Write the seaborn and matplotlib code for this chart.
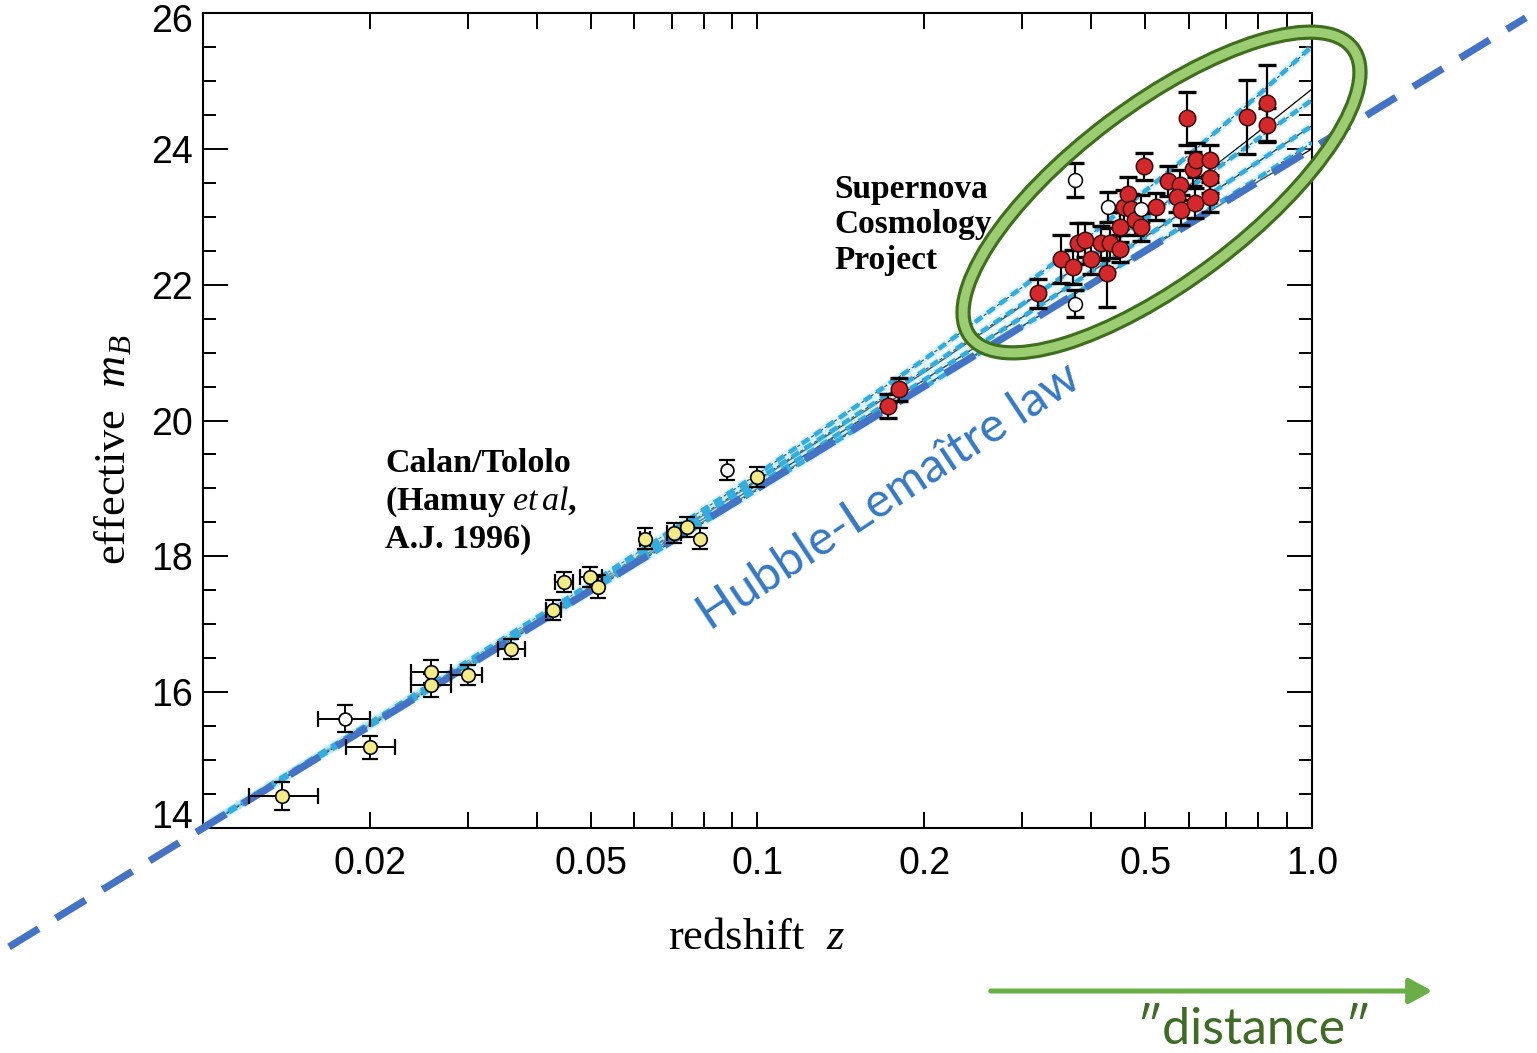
import numpy as np
import pandas as pd
import matplotlib
matplotlib.use("Agg")
import matplotlib.pyplot as plt
import matplotlib.transforms as mtransforms
from matplotlib.patches import Ellipse, FancyArrowPatch
import seaborn as sns

# ---------------- data ----------------
# Calan/Tololo supernovae (low redshift)
ct_z = [0.0139, 0.0180, 0.0200, 0.0258, 0.0258, 0.0301, 0.0360, 0.0428, 0.0448,
        0.0499, 0.0516, 0.0627, 0.0706, 0.0746, 0.0789, 0.0881, 0.1000]
ct_m = [14.47, 15.61, 15.19, 16.30, 16.10, 16.25, 16.64, 17.21, 17.62,
        17.70, 17.55, 18.26, 18.34, 18.43, 18.26, 19.27, 19.17]
ct_err = [0.20, 0.20, 0.17, 0.17, 0.17, 0.15, 0.15, 0.15, 0.15,
          0.15, 0.17, 0.15, 0.15, 0.15, 0.15, 0.15, 0.15]
ct_zlo = [0.0121, 0.0161, 0.0181, 0.0237, 0.0237, 0.0280, 0.0341, 0.0415, 0.0432,
          0.0479, 0.0516, 0.0613, 0.0686, 0.0746, 0.0789, 0.0881, 0.1000]
ct_zhi = [0.0161, 0.0200, 0.0222, 0.0280, 0.0280, 0.0318, 0.0381, 0.0442, 0.0465,
          0.0524, 0.0516, 0.0641, 0.0727, 0.0746, 0.0789, 0.0881, 0.1000]
ct_open = [False, True, False, False, False, False, False, False, False,
           False, False, False, False, False, False, True, False]

# Supernova Cosmology Project (high redshift)
scp_z = [0.172, 0.180, 0.320, 0.353, 0.371, 0.373, 0.373, 0.378, 0.389, 0.400,
         0.417, 0.426, 0.432, 0.450, 0.450, 0.459, 0.466, 0.471, 0.479, 0.492,
         0.428, 0.492, 0.497, 0.524, 0.550, 0.577, 0.570, 0.581, 0.594, 0.610,
         0.618, 0.615, 0.654, 0.654, 0.654, 0.762, 0.828, 0.828]
scp_m = [20.21, 20.46, 21.87, 22.38, 22.26, 23.54, 21.72, 22.61, 22.66, 22.38,
         22.61, 22.17, 22.61, 22.53, 22.85, 23.15, 23.34, 23.12, 22.95, 22.85,
         23.15, 23.12, 23.74, 23.15, 23.52, 23.47, 23.29, 23.10, 24.45, 23.71,
         23.84, 23.20, 23.84, 23.57, 23.29, 24.47, 24.67, 24.35]
scp_err = [0.18, 0.17, 0.22, 0.35, 0.25, 0.25, 0.20, 0.30, 0.25, 0.22,
           0.25, 0.50, 0.22, 0.20, 0.22, 0.25, 0.25, 0.22, 0.22, 0.20,
           0.22, 0.20, 0.20, 0.20, 0.22, 0.22, 0.22, 0.22, 0.39, 0.25,
           0.25, 0.22, 0.22, 0.22, 0.22, 0.54, 0.56, 0.25]
scp_open = [False, False, False, False, False, True, True, False, False, False,
            False, False, False, False, False, False, False, False, False, False,
            True, True, False, False, False, False, False, False, False, False,
            False, False, False, False, False, False, False, False]

# model magnitude-redshift curves
model_z = [0.01, 0.02, 0.05, 0.1, 0.2, 0.3, 0.4, 0.5, 0.6, 0.7, 0.8, 1.0]
solid_models = {
    "(0,0)": [14.01, 15.53, 17.55, 19.11, 20.71, 21.69, 22.41, 22.98, 23.46, 23.88, 24.25, 24.88],
    "(1,0)": [14.01, 15.52, 17.52, 19.05, 20.60, 21.52, 22.19, 22.70, 23.13, 23.49, 23.81, 24.34],
    "(2,0)": [14.00, 15.51, 17.50, 19.00, 20.51, 21.39, 22.01, 22.50, 22.89, 23.23, 23.52, 24.00],
}
flat_models = {
    "(0,1)": [14.02, 15.55, 17.60, 19.21, 20.90, 21.96, 22.74, 23.38, 23.91, 24.38, 24.79, 25.51],
    "(0.5,0.5)": [14.01, 15.53, 17.56, 19.13, 20.74, 21.71, 22.41, 22.97, 23.42, 23.81, 24.15, 24.72],
    "(1,0)": [14.01, 15.52, 17.52, 19.05, 20.60, 21.52, 22.19, 22.70, 23.13, 23.49, 23.81, 24.34],
    "(1.5,-0.5)": [14.00, 15.50, 17.48, 18.98, 20.49, 21.38, 22.01, 22.51, 22.92, 23.27, 23.57, 24.09],
}

# straight Hubble-Lemaitre relation, drawn past the frame
hubble_z = [0.00447, 2.43]
hubble_m = [12.25, 25.93]

x_major = [0.02, 0.05, 0.1, 0.2, 0.5, 1.0]
x_major_labels = ["0.02", "0.05", "0.1", "0.2", "0.5", "1.0"]
x_minor = [0.03, 0.04, 0.06, 0.07, 0.08, 0.09, 0.3, 0.4, 0.6, 0.7, 0.8, 0.9]
y_major = [14, 16, 18, 20, 22, 24, 26]

# ---------------- style ----------------
sns.set_theme(style="ticks")
plt.rcParams.update({
    "font.family": ["Liberation Sans", "DejaVu Sans"],
    "mathtext.fontset": "custom",
    "mathtext.rm": "Liberation Serif",
    "mathtext.it": "Liberation Serif:italic",
    "mathtext.bf": "Liberation Serif:bold",
    "mathtext.bfit": "Liberation Serif:italic:bold",
    "axes.linewidth": 1.5,
    "text.color": "black",
    "axes.labelcolor": "black",
    "xtick.color": "black",
    "ytick.color": "black",
    "axes.edgecolor": "black",
})

W, H = 1537, 1053
fig = plt.figure(figsize=(W / 100, H / 100), dpi=100)
fig.patch.set_facecolor("white")
ax = fig.add_axes([203 / W, 1 - 828 / H, (1312 - 203) / W, (828 - 13) / H])
ax.set_facecolor("white")
ax.set_xscale("log")

# model curves
for name, vals in solid_models.items():
    sns.lineplot(x=model_z, y=vals, ax=ax, color="black", lw=0.9, zorder=2)
for name, vals in flat_models.items():
    sns.lineplot(x=model_z, y=vals, ax=ax, color="black", lw=0.8,
                 linestyle=(0, (3, 2)), zorder=2)
    sns.lineplot(x=model_z, y=vals, ax=ax, color="#9be0f5", lw=5.5,
                 alpha=0.35, zorder=2)
    sns.lineplot(x=model_z, y=vals, ax=ax, color="#33ace0", lw=3.3,
                 linestyle=(0, (1.9, 1.4)), zorder=3)

# Hubble-Lemaitre line
sns.lineplot(x=hubble_z, y=hubble_m, ax=ax, color="#4472c4", lw=5.2,
             linestyle=(0, (4.8, 2.8)), clip_on=False, zorder=4)

# error bars
err_kw = dict(fmt="none", ecolor="black", elinewidth=1.4, capsize=5.5, capthick=1.6, zorder=5)
ax.errorbar(ct_z, ct_m, yerr=ct_err, **err_kw)
ct_zc = np.array(ct_z)
has_x = np.array(ct_zhi) > np.array(ct_zlo)
ax.errorbar(ct_zc[has_x], np.array(ct_m)[has_x],
            xerr=[ct_zc[has_x] - np.array(ct_zlo)[has_x], np.array(ct_zhi)[has_x] - ct_zc[has_x]],
            **err_kw)
ax.errorbar(scp_z, scp_m, yerr=scp_err, fmt="none", ecolor="black", elinewidth=1.6,
            capsize=6.5, capthick=2.4, zorder=5)

# points
ct = pd.DataFrame({"z": ct_z, "m": ct_m, "open": ct_open})
scp = pd.DataFrame({"z": scp_z, "m": scp_m, "open": scp_open})
sns.scatterplot(data=ct[~ct["open"]], x="z", y="m", ax=ax, color="#f3ec86",
                edgecolor="black", linewidth=1.2, s=95, zorder=6)
sns.scatterplot(data=ct[ct["open"]], x="z", y="m", ax=ax, color="white",
                edgecolor="black", linewidth=1.2, s=85, zorder=6)
sns.scatterplot(data=scp[~scp["open"]], x="z", y="m", ax=ax, color="#d3282c",
                edgecolor="#3a0a0a", linewidth=1.1, s=140, zorder=6)
sns.scatterplot(data=scp[scp["open"]], x="z", y="m", ax=ax, color="white",
                edgecolor="black", linewidth=1.1, s=100, zorder=6)

# axes
ax.set_xlim(0.01, 1.0)
ax.set_ylim(14, 26)
ax.set_xticks(x_major)
ax.set_xticklabels(x_major_labels)
ax.set_xticks(x_minor, minor=True)
ax.set_xticklabels([], minor=True)
ax.set_yticks(y_major)
ax.set_yticklabels([str(v) for v in y_major])
ax.set_yticks(np.arange(14, 26.01, 0.5), minor=True)
ax.tick_params(axis="both", which="both", direction="in", top=True, right=True,
               colors="black", width=1.4)
ax.tick_params(axis="x", which="both", length=11.5, labelsize=27, pad=13)
ax.tick_params(axis="y", which="major", length=18, labelsize=27, pad=7)
ax.tick_params(axis="y", which="minor", length=9.5)
for sp in ax.spines.values():
    sp.set_visible(True)
    sp.set_color("black")
    sp.set_linewidth(1.5)

ax.set_xlabel(r"redshift  $z$", family="Liberation Serif", fontsize=32)
ax.xaxis.label.set_va("center")
ax.xaxis.set_label_coords((756 - 203) / (1312 - 203), -(938 - 828) / (828 - 13))
ax.set_ylabel(r"effective  $m_B$", family="Liberation Serif", fontsize=32)
ax.yaxis.label.set_va("center")
ax.yaxis.set_label_coords(-(203 - 113) / (1312 - 203), (828 - 450) / (828 - 13))

# data set captions
ax.text(0.0213, 18.81, "Calan/Tololo\n(Hamuy $\\mathit{et\\,al}$,\nA.J. 1996)",
        family="Liberation Serif", fontweight="bold", fontsize=24.5, ha="left",
        va="center", linespacing=1.2, zorder=7)
ax.text(0.1374, 22.88, "Supernova\nCosmology\nProject",
        family="Liberation Serif", fontweight="bold", fontsize=24, ha="left",
        va="center", linespacing=1.2, zorder=7)

ax.text(0.1727, 18.89, "Hubble-Lemaître law", family=["Lato", "DejaVu Sans"],
        fontweight="normal", fontsize=35, color="#3478c6", rotation=33.4,
        rotation_mode="anchor", ha="center", va="center", zorder=7)

# highlight around the high-redshift sample
for lw, col in [(11, "#3f6e1f"), (6.5, "#9ccd72")]:
    ell = Ellipse((1161.5 / 100, (H - 192.5) / 100), 4.79, 1.76, angle=37,
                  transform=fig.dpi_scale_trans, fill=False, lw=lw, edgecolor=col,
                  zorder=8, clip_on=False)
    fig.add_artist(ell)

# distance arrow
fig.add_artist(FancyArrowPatch(
    (988 / W, 1 - 991 / H), (1435 / W, 1 - 991 / H), transform=fig.transFigure,
    arrowstyle="-|>,head_length=1.0,head_width=0.55", mutation_scale=14,
    color="#6aae48", lw=3.6))
fig.text(1254 / W, 1 - 1030 / H, "″distance″", family=["Lato", "DejaVu Sans"],
         fontweight="normal", fontsize=36, color="#3e6b25", ha="center", va="center")

# nudge the end labels of the magnitude axis inward, once tick positions are final
fig.canvas.draw()
for lab in ax.get_yticklabels():
    if lab.get_text() == "14":
        lab.set_transform(lab.get_transform() +
                          mtransforms.ScaledTranslation(0, 0.14, fig.dpi_scale_trans))
    elif lab.get_text() == "26":
        lab.set_transform(lab.get_transform() +
                          mtransforms.ScaledTranslation(0, -0.05, fig.dpi_scale_trans))

fig.savefig("out.png", dpi=100, facecolor="white")
